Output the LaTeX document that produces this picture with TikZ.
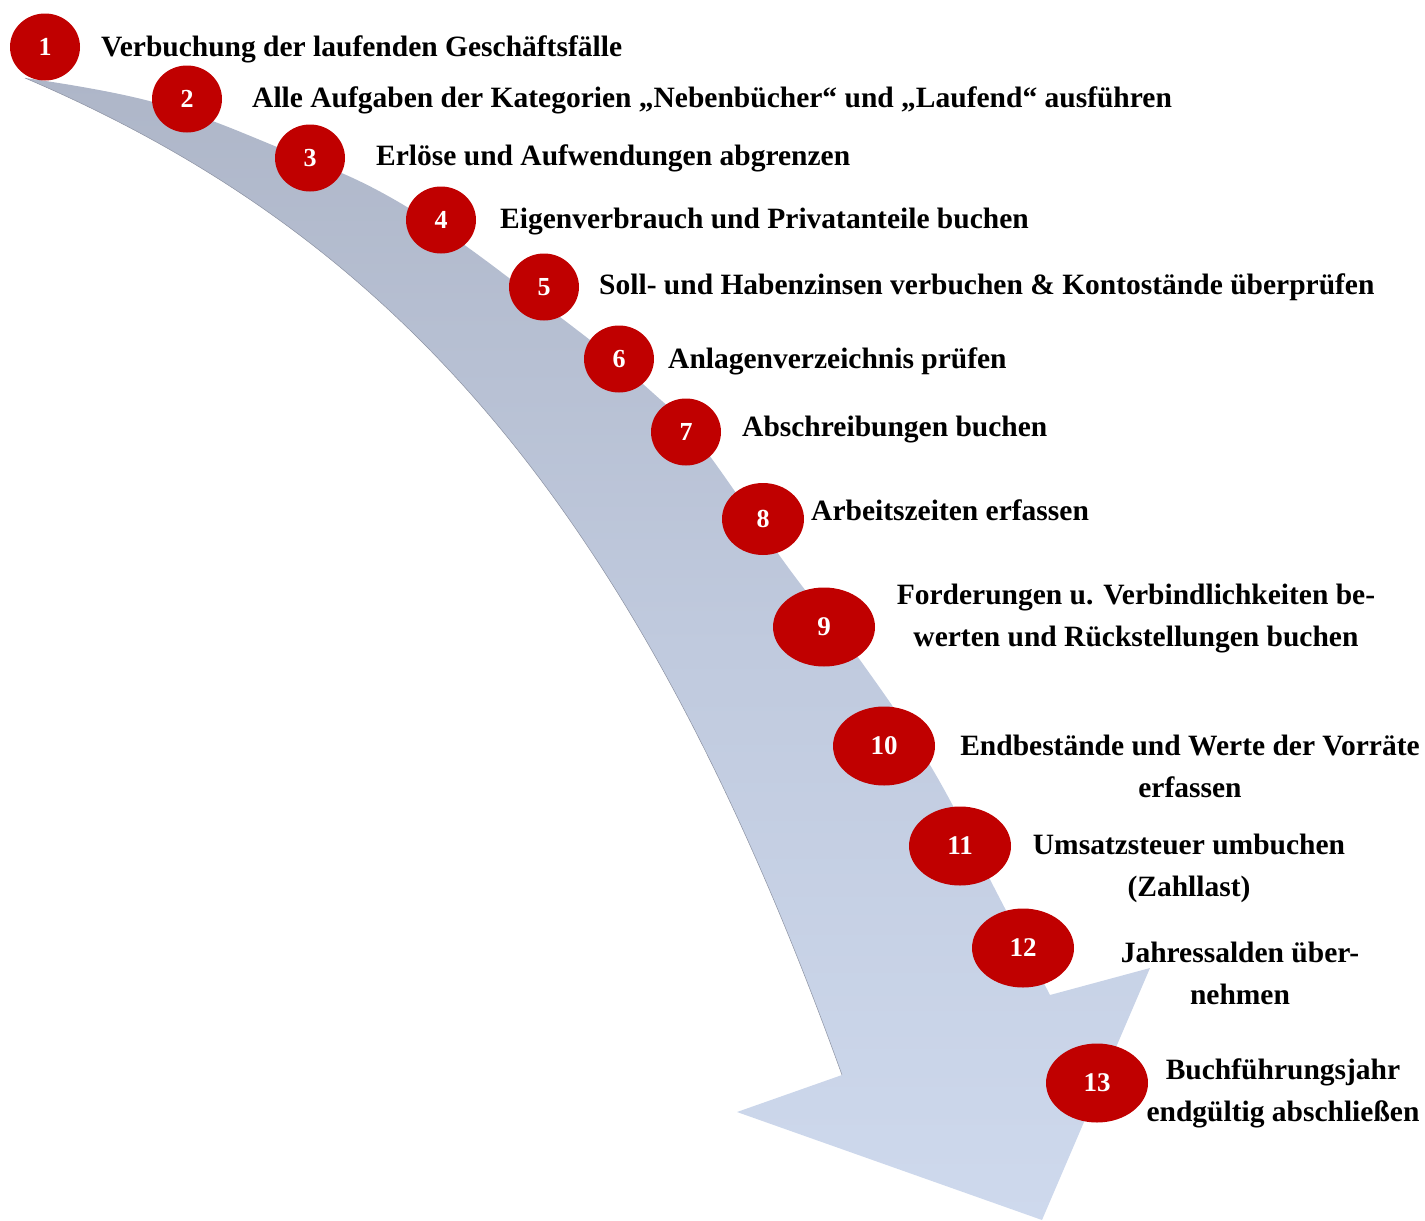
\documentclass[tikz,border=0pt]{standalone}
\usepackage{fontspec}
\setmainfont{Liberation Serif}
\usetikzlibrary{shapes.geometric}
\definecolor{numred}{RGB}{192,0,0}
\definecolor{arrowtop}{RGB}{174,182,200}
\definecolor{arrowmid}{RGB}{192,202,222}
\definecolor{arrowbot}{RGB}{206,217,237}
\definecolor{arrowedge}{RGB}{140,146,162}
\tikzset{
  numsmall/.style={ellipse, fill=numred, text=white, inner sep=0pt,
    minimum width=70pt, minimum height=67pt,
    font=\bfseries\fontsize{26}{26}\selectfont},
  numbig/.style={ellipse, fill=numred, text=white, inner sep=0pt,
    minimum width=102pt, minimum height=79pt,
    font=\bfseries\fontsize{27}{27}\selectfont},
  lbl/.style={inner sep=0pt, anchor=base west,
    font=\bfseries\fontsize{29.5}{42}\selectfont},
  lblc/.style={inner sep=0pt, anchor=center, align=center,
    font=\bfseries\fontsize{29.5}{42}\selectfont},
}
\begin{document}
\begin{tikzpicture}[x=1pt,y=-1pt]
\useasboundingbox (0,0) rectangle (1425,1221);
% curved arrow body
\shade[top color=arrowtop, bottom color=arrowbot, middle color=arrowmid]
  plot[smooth, tension=0.7] coordinates {(25,78) (153,102) (277,147) (407,207) (560,317) (653,393) (700,443) (790,570) (860,660) (933,770) (998,895) (1050,995)}
  -- (1150,968) -- (1042,1220) -- (737,1112) -- (842,1075)
  .. controls (635,500) and (390,234) .. (25,78)
  -- cycle;
\draw[arrowedge, line width=0.5pt]
  (842,1075) .. controls (635,500) and (390,234) .. (25,78);
% numbered markers
\node[numsmall] (c1) at (45,47) {1};
\node[numsmall] (c2) at (187,99) {2};
\node[numsmall] (c3) at (310,158) {3};
\node[numsmall] (c4) at (441,220) {4};
\node[numsmall] (c5) at (544,287) {5};
\node[numsmall] (c6) at (619,359) {6};
\node[numsmall] (c7) at (686,432) {7};
\node[numsmall, minimum width=82pt, minimum height=72pt] (c8) at (763,519) {8};
\node[numbig] (c9) at (824,627) {9};
\node[numbig] (c10) at (884,746) {10};
\node[numbig] (c11) at (960,846) {11};
\node[numbig] (c12) at (1023,948) {12};
\node[numbig] (c13) at (1097,1083) {13};
% labels
\node[lbl] (t1) at (101,56) {Verbuchung der laufenden Geschäftsfälle};
\node[lbl] (t2) at (252,107) {Alle Aufgaben der Kategorien „Nebenbücher“ und „Laufend“ ausführen};
\node[lbl] (t3) at (376,165) {Erlöse und Aufwendungen abgrenzen};
\node[lbl] (t4) at (500,228) {Eigenverbrauch und Privatanteile buchen};
\node[lbl] (t5) at (599,294) {Soll- und Habenzinsen verbuchen \& Kontostände überprüfen};
\node[lbl] (t6) at (668,368) {Anlagenverzeichnis prüfen};
\node[lbl] (t7) at (742,436) {Abschreibungen buchen};
\node[lbl] (t8) at (811,520) {Arbeitszeiten erfassen};
\node[lblc] (t9) at (1136,619) {Forderungen u. Verbindlichkeiten be-\\werten und Rückstellungen buchen};
\node[lblc] (t10) at (1190,766) {Endbestände und Werte der Vorräte\\erfassen};
\node[lblc] (t11) at (1189,868) {Umsatzsteuer umbuchen\\(Zahllast)};
\node[lblc] (t12) at (1240,973) {Jahressalden über-\\nehmen};
\node[lblc] (t13) at (1283,1093) {Buchführungsjahr\\endgültig abschließen};
\end{tikzpicture}
\end{document}
